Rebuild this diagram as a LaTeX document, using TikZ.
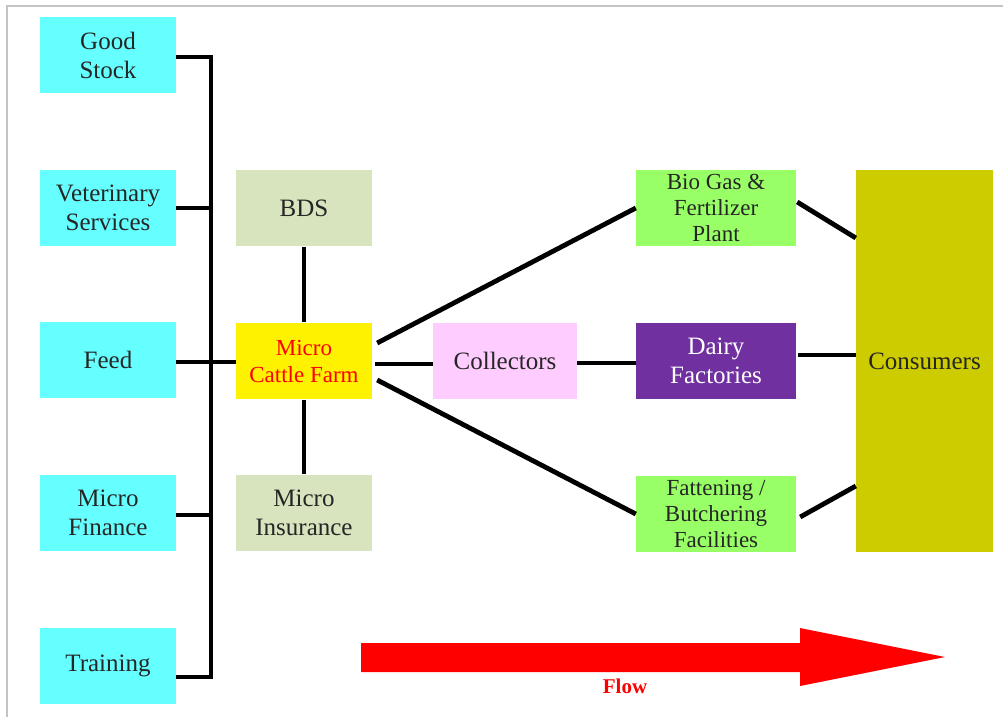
\documentclass[tikz,border=0pt]{standalone}
\usepackage{fontspec}
\setmainfont{Liberation Serif}
\newfontfamily\timesfont{Liberation Serif}
\usetikzlibrary{calc}
\definecolor{cyanbox}{HTML}{66FFFF}
\definecolor{bdsbox}{HTML}{D7E4BD}
\definecolor{pinkbox}{HTML}{FFCCFF}
\definecolor{greenbox}{HTML}{99FF66}
\definecolor{purplebox}{HTML}{7030A0}
\definecolor{consbox}{HTML}{CCCC00}
\definecolor{txt}{HTML}{262626}
\definecolor{frame}{HTML}{C4C4C4}
\begin{document}
\begin{tikzpicture}[x=1pt,y=-1pt,
  box/.style={rectangle, inner sep=0pt, align=center, text=txt,
    minimum height=76pt, font=\timesfont\fontsize{25}{29}\selectfont},
  cbox/.style={box, fill=cyanbox, minimum width=136pt},
  gbox/.style={box, fill=bdsbox, minimum width=136pt},
  rbox/.style={box, fill=greenbox, minimum width=160pt, font=\timesfont\fontsize{23}{26}\selectfont},
  conn/.style={line width=4.8pt, black, line join=miter}]
\useasboundingbox (0,0) rectangle (1003,717);
\draw[frame, line width=2.5pt] (7,717) -- (7,6) -- (1003,6);

% nodes
\node[cbox] (gs) at (108,55) {Good\\Stock};
\node[cbox] (vet) at (108,208) {Veterinary\\Services};
\node[cbox] (feed) at (108,360) {Feed};
\node[cbox] (fin) at (108,513) {Micro\\Finance};
\node[cbox] (tr) at (108,666) {Training};

\node[gbox] (bds) at (304,208) {BDS};
\node[box, fill=yellow, minimum width=136pt, text=red,
  font=\timesfont\fontsize{23}{27}\selectfont] (farm) at (304,361) {Micro\\Cattle Farm};
\node[gbox] (ins) at (304,513) {Micro\\Insurance};

\node[box, fill=pinkbox, minimum width=144pt] (coll) at (505,361) {Collectors};

\node[rbox] (bio) at (716,208) {Bio Gas \&\\Fertilizer\\Plant};
\node[box, fill=purplebox, minimum width=160pt, text=white] (dairy) at (716,361) {Dairy\\Factories};
\node[rbox] (fat) at (716,514) {Fattening /\\Butchering\\Facilities};

\node[box, fill=consbox, minimum width=137pt, minimum height=382pt] (cons) at (924.5,361) {Consumers};

% bus
\coordinate (btop) at (211,57);
\coordinate (bbot) at (211,677);
\draw[conn] ($(gs.east)+(0,2)$) -- (btop) -- (bbot) -- ($(tr.east)+(0,11)$);
\draw[conn] (vet.east) -- (vet.east -| btop);
\draw[conn] ($(fin.east)+(0,2)$) -- ($(fin.east -| btop)+(0,2)$);
\draw[conn] ($(feed.east)+(0,2)$) -- ($(farm.west)+(0,1)$);

% farm connections
\draw[conn] ($(bds.south)+(0,1)$) -- ($(farm.north)+(0,-1)$);
\draw[conn] ($(ins.north)+(0,-1)$) -- ($(farm.south)+(0,1)$);
\draw[conn] ($(farm.east)+(3,3)$) -- ($(coll.west)+(0,3)$);
\draw[conn] ($(farm.east)+(5,-18)$) -- (bio.west);
\draw[conn] ($(farm.east)+(5,19)$) -- (fat.west);
\draw[conn] ($(coll.east)+(0,2)$) -- ($(dairy.west)+(0,2)$);

% to consumers
\draw[conn] ($(bio.east)+(1,-6)$) -- ($(cons.west)+(0,-123)$);
\draw[conn] ($(dairy.east)+(2,-6)$) -- ($(cons.west)+(0,-6)$);
\draw[conn] ($(fat.east)+(4,3)$) -- ($(cons.west)+(0,125)$);

% flow arrow
\fill[red] (361,643) -- (800,643) -- (800,628) -- (945,657) -- (800,686) -- (800,672) -- (361,672) -- cycle;
\node[text=red, font=\timesfont\bfseries\fontsize{21}{21}\selectfont] (flow) at (625,686) {Flow};
\end{tikzpicture}
\end{document}
